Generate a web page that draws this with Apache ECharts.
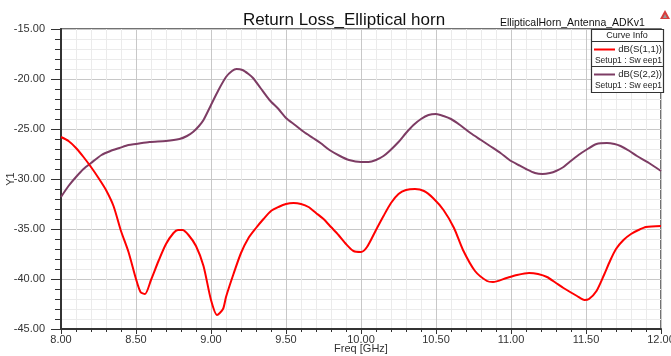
<!DOCTYPE html>
<html>
<head>
<meta charset="utf-8">
<script src="https://cdn.jsdelivr.net/npm/echarts@6/dist/echarts.min.js"></script>
<style>html,body{margin:0;padding:0;background:#fff}#c{width:671px;height:356px}</style>
</head>
<body>
<div id="c"></div>
<script>
const titleText = 'Return Loss_Elliptical horn';
const subText = 'EllipticalHorn_Antenna_ADKv1';
const xName = 'Freq [GHz]';
const yName = 'Y1';
const seriesNames = ['dB(S(1,1))', 'dB(S(2,2))'];
const setupLabel = 'Setup1 : Sw eep1';

const freq11 = [8.00,8.05,8.10,8.15,8.20,8.25,8.30,8.35,8.40,8.45,8.50,8.53,8.56,8.60,8.65,8.70,8.75,8.78,8.81,8.85,8.90,8.95,9.00,9.04,9.08,9.10,9.15,9.20,9.25,9.30,9.35,9.40,9.45,9.50,9.55,9.60,9.65,9.70,9.75,9.80,9.85,9.90,9.95,10.00,10.04,10.10,10.15,10.20,10.25,10.30,10.36,10.42,10.48,10.55,10.62,10.68,10.76,10.84,10.88,10.97,11.04,11.12,11.18,11.24,11.30,11.35,11.44,11.49,11.52,11.57,11.62,11.66,11.70,11.75,11.80,11.85,11.90,12.00];
const s11 = [-25.8,-26.2,-26.9,-27.8,-28.8,-29.9,-31.1,-32.7,-35.2,-37.3,-40.0,-41.3,-41.5,-40.1,-38.2,-36.5,-35.4,-35.1,-35.1,-35.6,-36.7,-38.7,-42.1,-43.6,-43.0,-41.8,-39.5,-37.4,-35.9,-34.9,-34.0,-33.2,-32.8,-32.5,-32.4,-32.5,-32.8,-33.4,-34.0,-34.8,-35.6,-36.5,-37.2,-37.3,-36.8,-35.1,-33.7,-32.4,-31.5,-31.1,-31.0,-31.2,-31.9,-33.1,-34.9,-37.1,-39.2,-40.2,-40.3,-39.9,-39.6,-39.4,-39.5,-39.8,-40.4,-40.9,-41.7,-42.1,-42.0,-41.2,-39.6,-38.2,-37.0,-36.1,-35.5,-35.1,-34.8,-34.7];

const freq22 = [8.00,8.05,8.10,8.15,8.20,8.27,8.33,8.39,8.45,8.50,8.59,8.70,8.79,8.84,8.88,8.92,8.95,9.00,9.05,9.10,9.14,9.17,9.21,9.25,9.28,9.33,9.39,9.45,9.50,9.56,9.62,9.68,9.73,9.79,9.86,9.92,10.00,10.05,10.10,10.15,10.19,10.25,10.30,10.35,10.40,10.45,10.50,10.55,10.60,10.66,10.73,10.80,10.86,10.93,10.99,11.05,11.10,11.16,11.21,11.26,11.30,11.35,11.39,11.45,11.50,11.57,11.64,11.69,11.73,11.79,11.84,11.92,12.00];
const s22 = [-31.8,-30.7,-29.8,-29.0,-28.4,-27.6,-27.2,-26.9,-26.6,-26.5,-26.3,-26.2,-26.0,-25.7,-25.3,-24.7,-24.1,-22.6,-21.1,-19.8,-19.2,-19.0,-19.1,-19.5,-19.9,-20.9,-22.1,-23.0,-23.9,-24.6,-25.3,-25.9,-26.4,-27.1,-27.7,-28.1,-28.3,-28.3,-28.1,-27.7,-27.2,-26.3,-25.4,-24.6,-24.0,-23.6,-23.5,-23.7,-24.0,-24.6,-25.4,-26.1,-26.7,-27.4,-28.1,-28.6,-29.0,-29.4,-29.5,-29.4,-29.2,-28.8,-28.3,-27.6,-27.1,-26.5,-26.4,-26.5,-26.7,-27.2,-27.7,-28.4,-29.2];

const colors = ['#ff0000', '#7d3c64'];
const font = 'Liberation Sans, Arial, sans-serif';

const chart = echarts.init(document.getElementById('c'), null, {renderer: 'canvas'});
const pair = (xs, ys) => xs.map((x, i) => [x, ys[i]]);

const option = {
  animation: false,
  backgroundColor: '#fff',
  textStyle: {fontFamily: font},
  title: [
    {text: titleText, left: 339, top: 7, textAlign: 'center',
     textStyle: {fontFamily: font, fontSize: 17, fontWeight: 'normal', color: '#111'}},
    {text: subText, left: 495, top: 13,
     textStyle: {fontFamily: font, fontSize: 10.5, fontWeight: 'normal', color: '#111'}}
  ],
  grid: {left: 61, right: 10, top: 29, bottom: 27, outerBoundsMode: 'none', containLabel: false,
         show: true, borderColor: '#444', borderWidth: 1.5, backgroundColor: 'transparent'},
  xAxis: {
    type: 'value', min: 8, max: 12, interval: 0.5,
    name: xName, nameLocation: 'middle', nameGap: 14, nameMoveOverlap: false,
    nameTextStyle: {fontFamily: font, fontSize: 11, color: '#333'},
    axisLine: {show: true, onZero: false, lineStyle: {color: '#333', width: 2}},
    axisTick: {show: true, inside: false, length: 5, lineStyle: {color: '#333'}},
    minorTick: {show: true, splitNumber: 5, length: 3, lineStyle: {color: '#333'}},
    axisLabel: {margin: 5, fontSize: 11, color: '#333', fontFamily: font, formatter: v => v.toFixed(2)},
    splitLine: {show: true, lineStyle: {color: '#c8c8c8', width: 1}},
    minorSplitLine: {show: true, lineStyle: {color: '#ebebeb', width: 1}}
  },
  yAxis: {
    type: 'value', min: -45, max: -15, interval: 5,
    name: yName, nameLocation: 'middle', nameGap: 45, nameRotate: 90, nameMoveOverlap: false,
    nameTextStyle: {fontFamily: font, fontSize: 11, color: '#333'},
    axisLine: {show: true, onZero: false, lineStyle: {color: '#333', width: 2}},
    axisTick: {show: true, inside: false, length: 10, lineStyle: {color: '#333'}},
    minorTick: {show: true, splitNumber: 5, length: 6, lineStyle: {color: '#333'}},
    axisLabel: {margin: 16, fontSize: 11, color: '#333', fontFamily: font, formatter: v => v.toFixed(2)},
    splitLine: {show: true, lineStyle: {color: '#c8c8c8', width: 1}},
    minorSplitLine: {show: true, lineStyle: {color: '#ebebeb', width: 1}}
  },
  series: [
    {name: seriesNames[0], type: 'line', data: pair(freq11, s11), showSymbol: false, smooth: 0.25,
     lineStyle: {color: colors[0], width: 2}, itemStyle: {color: colors[0]}, z: 3},
    {name: seriesNames[1], type: 'line', data: pair(freq22, s22), showSymbol: false, smooth: 0.25,
     lineStyle: {color: colors[1], width: 2}, itemStyle: {color: colors[1]}, z: 2}
  ],
  graphic: [
    {type: 'rect', shape: {x: 591.5, y: 29.5, width: 72, height: 63}, style: {fill: '#fff', stroke: '#333', lineWidth: 1.2}, z: 10},
    {type: 'line', shape: {x1: 591.5, y1: 41.5, x2: 663.5, y2: 41.5}, style: {stroke: '#333', lineWidth: 1}, z: 11},
    {type: 'line', shape: {x1: 591.5, y1: 66.5, x2: 663.5, y2: 66.5}, style: {stroke: '#333', lineWidth: 1}, z: 11},
    {type: 'text', x: 627, y: 31, style: {text: 'Curve Info', font: '9px ' + font, fill: '#222', align: 'center', verticalAlign: 'top'}, z: 11},
    {type: 'line', shape: {x1: 594, y1: 49.5, x2: 615, y2: 49.5}, style: {stroke: colors[0], lineWidth: 2}, z: 11},
    {type: 'text', x: 662, y: 44, style: {text: seriesNames[0], font: '9.5px ' + font, fill: '#222', align: 'right', verticalAlign: 'top'}, z: 11},
    {type: 'text', x: 662, y: 56, style: {text: setupLabel, font: '8.5px ' + font, fill: '#222', align: 'right', verticalAlign: 'top'}, z: 11},
    {type: 'line', shape: {x1: 594, y1: 74.5, x2: 615, y2: 74.5}, style: {stroke: colors[1], lineWidth: 2}, z: 11},
    {type: 'text', x: 662, y: 69, style: {text: seriesNames[1], font: '9.5px ' + font, fill: '#222', align: 'right', verticalAlign: 'top'}, z: 11},
    {type: 'text', x: 662, y: 81, style: {text: setupLabel, font: '8.5px ' + font, fill: '#222', align: 'right', verticalAlign: 'top'}, z: 11},
    {type: 'polygon', shape: {points: [[665, 10], [660, 19], [670, 19]]}, style: {fill: '#d83b3b'}, z: 11},
    {type: 'polygon', shape: {points: [[665, 14], [663, 18], [667, 18]]}, style: {fill: '#999'}, z: 12}
  ]
};
chart.setOption(option);
</script>
</body>
</html>
